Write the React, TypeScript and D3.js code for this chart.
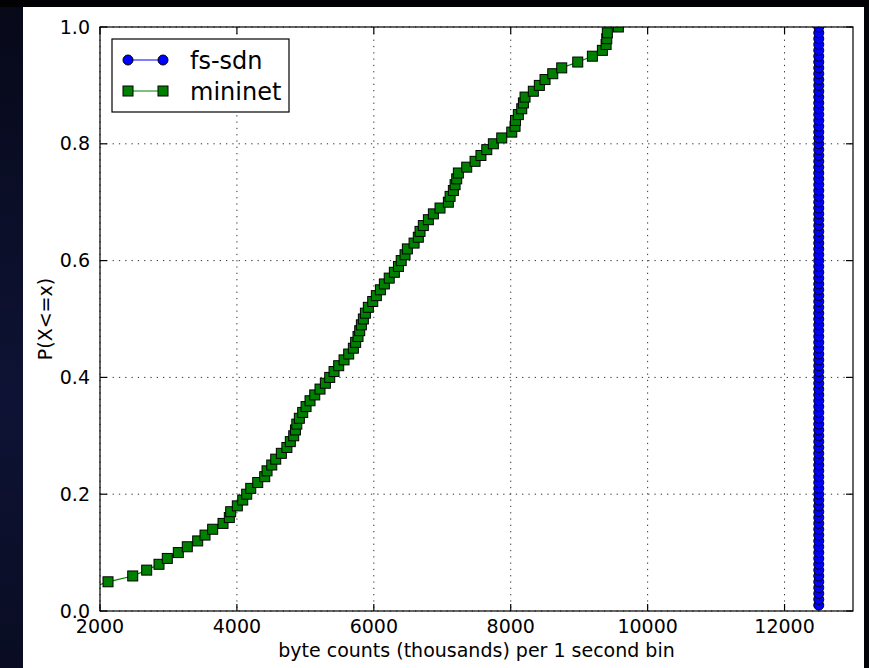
import React, { useEffect, useRef } from 'react';
import * as d3 from 'd3';

// empirical CDF samples, byte counts (thousands) per 1 second bin
const mininetBytes = [
  1200, 1500, 1700, 1880, 2117, 2478, 2682, 2862, 2983, 3144,
  3275, 3427, 3534, 3646, 3797, 3889, 3909, 4006, 4085, 4143,
  4202, 4304, 4406, 4440, 4509, 4567, 4649, 4730, 4780, 4830,
  4855, 4875, 4912, 4961, 5010, 5068, 5137, 5214, 5292, 5356,
  5419, 5487, 5565, 5633, 5701, 5735, 5769, 5794, 5818, 5847,
  5877, 5920, 5984, 6037, 6096, 6154, 6225, 6300, 6360, 6400,
  6456, 6490, 6588, 6650, 6675, 6723, 6797, 6870, 6967, 7089,
  7114, 7162, 7187, 7211, 7235, 7357, 7479, 7565, 7650, 7746,
  7869, 8015, 8063, 8070, 8111, 8161, 8185, 8209, 8330, 8418,
  8501, 8614, 8745, 8979, 9193, 9339, 9393, 9403, 9411, 9572,
];

const fsSdnBytes = [
  12500, 12500, 12500, 12500, 12500, 12500, 12500, 12500, 12500, 12500,
  12500, 12500, 12500, 12500, 12500, 12500, 12500, 12500, 12500, 12500,
  12500, 12500, 12500, 12500, 12500, 12500, 12500, 12500, 12500, 12500,
  12500, 12500, 12500, 12500, 12500, 12500, 12500, 12500, 12500, 12500,
  12500, 12500, 12500, 12500, 12500, 12500, 12500, 12500, 12500, 12500,
  12500, 12500, 12500, 12500, 12500, 12500, 12500, 12500, 12500, 12500,
  12500, 12500, 12500, 12500, 12500, 12500, 12500, 12500, 12500, 12500,
  12500, 12500, 12500, 12500, 12500, 12500, 12500, 12500, 12500, 12500,
  12500, 12500, 12500, 12500, 12500, 12500, 12500, 12500, 12500, 12500,
  12500, 12500, 12500, 12500, 12500, 12500, 12500, 12500, 12500, 12500,
];

const xTicks = [2000, 4000, 6000, 8000, 10000, 12000];
const yTicks = [0, 0.2, 0.4, 0.6, 0.8, 1.0];

const W = 869;
const H = 668;
const plot = { left: 100, right: 853, top: 27, bottom: 611 };
const font = '"DejaVu Sans", sans-serif';

const toCdf = (values: number[]) =>
  values.map((v, i) => ({ x: v, p: (i + 1) / values.length }));

const App = () => {
  const svgRef = useRef<SVGSVGElement>(null);

  useEffect(() => {
    const svg = d3.select(svgRef.current);
    svg.selectAll('*').remove();

    const x = d3.scaleLinear().domain([2000, 13000]).range([plot.left, plot.right]);
    const y = d3.scaleLinear().domain([0, 1]).range([plot.bottom, plot.top]);

    // slide background
    const defs = svg.append('defs');
    const grad = defs
      .append('radialGradient')
      .attr('id', 'bg')
      .attr('cx', '0')
      .attr('cy', '0.6')
      .attr('r', '0.9');
    grad.append('stop').attr('offset', '0%').attr('stop-color', '#0e1335');
    grad.append('stop').attr('offset', '100%').attr('stop-color', '#03040a');
    defs
      .append('clipPath')
      .attr('id', 'plotClip')
      .append('rect')
      .attr('x', plot.left)
      .attr('y', plot.top)
      .attr('width', plot.right - plot.left)
      .attr('height', plot.bottom - plot.top);

    svg.append('rect').attr('width', W).attr('height', H).attr('fill', 'url(#bg)');
    svg.append('rect').attr('width', W).attr('height', 7).attr('fill', '#020205');
    svg
      .append('rect')
      .attr('x', 23)
      .attr('y', 7)
      .attr('width', 841)
      .attr('height', H - 7)
      .attr('fill', '#fff');

    // grid
    const grid = svg
      .append('g')
      .attr('stroke', '#333')
      .attr('stroke-width', 1)
      .attr('stroke-dasharray', '1.3,5');
    grid
      .selectAll('.gx')
      .data(xTicks)
      .join('line')
      .attr('x1', (d) => x(d))
      .attr('x2', (d) => x(d))
      .attr('y1', plot.top)
      .attr('y2', plot.bottom);
    grid
      .selectAll('.gy')
      .data(yTicks)
      .join('line')
      .attr('x1', plot.left)
      .attr('x2', plot.right)
      .attr('y1', (d) => y(d))
      .attr('y2', (d) => y(d));

    const series = [
      { name: 'fs-sdn', color: '#0000ff', shape: 'circle', pts: toCdf(fsSdnBytes) },
      { name: 'mininet', color: '#008000', shape: 'square', pts: toCdf(mininetBytes) },
    ];

    const line = d3
      .line<{ x: number; p: number }>()
      .x((d) => x(d.x))
      .y((d) => y(d.p));

    const marks = svg.append('g').attr('clip-path', 'url(#plotClip)');
    const drawMarker = (g: any, shape: string, color: string, cx: number, cy: number) => {
      if (shape === 'circle') {
        g.append('circle')
          .attr('cx', cx)
          .attr('cy', cy)
          .attr('r', 5)
          .attr('fill', color)
          .attr('stroke', '#000')
          .attr('stroke-width', 1);
      } else {
        g.append('rect')
          .attr('x', cx - 5)
          .attr('y', cy - 5)
          .attr('width', 10)
          .attr('height', 10)
          .attr('fill', color)
          .attr('stroke', '#000')
          .attr('stroke-width', 1);
      }
    };

    series.forEach((s) => {
      const g = marks.append('g');
      g.append('path')
        .datum(s.pts)
        .attr('d', line)
        .attr('fill', 'none')
        .attr('stroke', s.color)
        .attr('stroke-width', 1.2);
      s.pts.forEach((d) => drawMarker(g, s.shape, s.color, x(d.x), y(d.p)));
    });

    // frame and ticks
    const axes = svg.append('g').attr('stroke', '#000').attr('stroke-width', 1.2);
    axes
      .append('rect')
      .attr('x', plot.left)
      .attr('y', plot.top)
      .attr('width', plot.right - plot.left)
      .attr('height', plot.bottom - plot.top)
      .attr('fill', 'none');
    xTicks.forEach((t) => {
      axes.append('line').attr('x1', x(t)).attr('x2', x(t)).attr('y1', plot.bottom).attr('y2', plot.bottom - 7);
      axes.append('line').attr('x1', x(t)).attr('x2', x(t)).attr('y1', plot.top).attr('y2', plot.top + 7);
    });
    yTicks.forEach((t) => {
      axes.append('line').attr('x1', plot.left).attr('x2', plot.left + 7).attr('y1', y(t)).attr('y2', y(t));
      axes.append('line').attr('x1', plot.right).attr('x2', plot.right - 7).attr('y1', y(t)).attr('y2', y(t));
    });

    const labels = svg.append('g').attr('font-family', font).attr('font-size', 19).attr('fill', '#000');
    labels
      .selectAll('.xl')
      .data(xTicks)
      .join('text')
      .attr('x', (d) => x(d))
      .attr('y', 633)
      .attr('text-anchor', 'middle')
      .text((d) => String(d));
    labels
      .selectAll('.yl')
      .data(yTicks)
      .join('text')
      .attr('x', plot.left - 10)
      .attr('y', (d) => y(d) + 6.5)
      .attr('text-anchor', 'end')
      .text((d) => d.toFixed(1));
    labels
      .append('text')
      .attr('x', (plot.left + plot.right) / 2)
      .attr('y', 657)
      .attr('text-anchor', 'middle')
      .text('byte counts (thousands) per 1 second bin');
    labels
      .append('text')
      .attr('transform', `translate(52, ${(plot.top + plot.bottom) / 2}) rotate(-90)`)
      .attr('text-anchor', 'middle')
      .text('P(X<=x)');

    // legend
    const lg = svg.append('g');
    lg.append('rect')
      .attr('x', 112)
      .attr('y', 39)
      .attr('width', 177)
      .attr('height', 73)
      .attr('fill', '#fff')
      .attr('stroke', '#000')
      .attr('stroke-width', 1.2);
    series.forEach((s, i) => {
      const ry = 60 + i * 31;
      lg.append('line')
        .attr('x1', 128)
        .attr('x2', 163)
        .attr('y1', ry)
        .attr('y2', ry)
        .attr('stroke', s.color)
        .attr('stroke-width', 1.2);
      drawMarker(lg, s.shape, s.color, 128, ry);
      drawMarker(lg, s.shape, s.color, 163, ry);
      lg.append('text')
        .attr('x', 190)
        .attr('y', ry + 8.5)
        .attr('font-family', font)
        .attr('font-size', 24)
        .attr('fill', '#000')
        .text(s.name);
    });
  }, []);

  return (
    <svg
      ref={svgRef}
      width={W}
      height={H}
      style={{ position: 'absolute', left: 0, top: 0, display: 'block' }}
    />
  );
};

export default App;
